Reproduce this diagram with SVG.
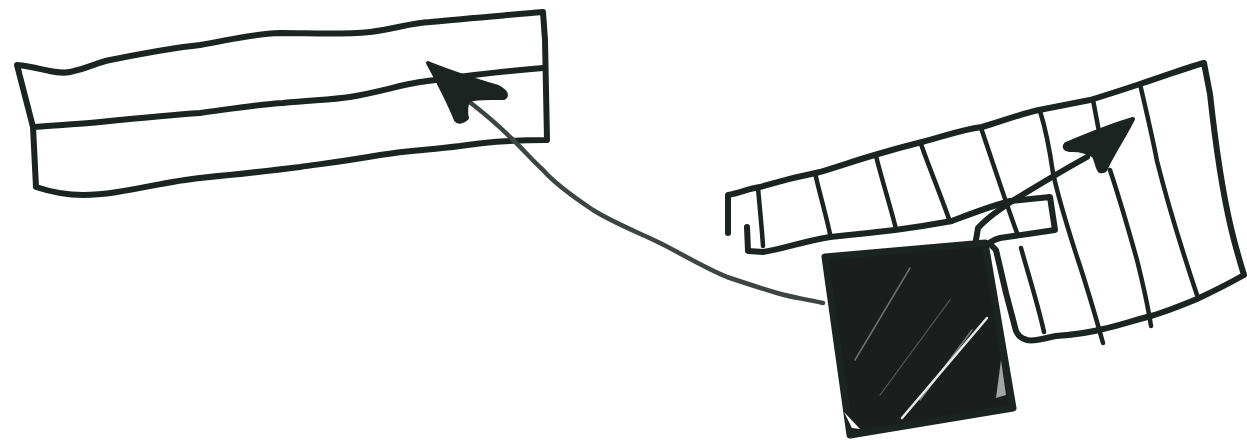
<svg xmlns="http://www.w3.org/2000/svg" width="1247" height="443" viewBox="0 0 1247 443">
<defs>
<style>
.ink{fill:none;stroke:#1c2422;stroke-width:6;stroke-linecap:round;stroke-linejoin:round}
.thin{fill:none;stroke:#1c2422;stroke-width:4.5;stroke-linecap:round;stroke-linejoin:round}
.gray{fill:none;stroke:#3d4543;stroke-width:4.5;stroke-linecap:round;stroke-linejoin:round}
.head{fill:#1c2422;stroke:#1c2422;stroke-width:4;stroke-linejoin:round}
.streak{fill:none;stroke:#e6ebea;stroke-linecap:round}
</style>
</defs>
<rect width="1247" height="443" fill="#ffffff"/>
<g id="left-box">
<path class="ink" d="M17,65 C40,67 55,75 70,72 C90,68 95,63 110,60 C140,54 170,48 200,45 C230,40 250,34 280,33 C310,33 340,35 370,32 C395,29 410,23 430,22 C470,18 510,15 543,12 L545,40 L547,140 C520,140 490,141 460,146 C430,150 410,150 380,155 C340,162 320,164 300,167 C260,172 230,175 200,178 C160,182 120,195 83,195 C60,195 45,190 36,187 L33,127 Z"/>
<path class="ink" d="M33,127 C60,125 80,124 100,122 C140,118 170,115 200,113 C230,109 260,104 283,103 C310,100 330,100 350,97 C380,92 400,85 420,82 C450,78 490,72 543,68"/>
</g>
<g id="block">
<path d="M825,257 L985,243 L1013,408 L850,435 Z" fill="#1a1f1e" stroke="#1c2422" stroke-width="7" stroke-linejoin="round"/>
<path class="streak" stroke-width="2.5" d="M987,318 L902,418"/>
<path class="streak" stroke-width="1.5" opacity="0.45" d="M972,330 L920,400"/>
<path class="streak" stroke-width="1.5" opacity="0.4" d="M910,268 L855,360"/>
<path class="streak" stroke-width="1.2" opacity="0.3" d="M950,300 L880,395"/>
<path d="M844,412 L852,428 L860,429 Z" fill="#ffffff"/>
<path d="M1001,360 L1006,395 L996,398 Z" fill="#ffffff" opacity="0.6"/>
</g>
<g id="ladder">
<path class="ink" d="M728,233 L728,195 C740,193 750,188 760,187 C780,181 800,176 820,172 C840,166 860,159 878,154 C895,149 910,145 922,142 C945,136 960,130 982,127 C1000,122 1020,114 1039,110 C1060,106 1075,103 1090,100 C1110,94 1125,89 1140,84 C1165,76 1185,68 1204,63 L1210,94 C1215,140 1222,190 1231,228 C1235,245 1240,262 1244,275 C1228,284 1212,292 1197,299 C1180,306 1165,312 1151,316 C1135,320 1118,326 1103,329 C1088,333 1072,335 1056,336 C1045,338 1035,342 1027,340 C1020,338 1018,335 1016,331 L1006,293 L996,250 L989,243 C992,241 996,239 1000,238 L1055,230 L1050,197 L1010,201 C985,208 965,216 952,221 C930,225 910,228 895,230 C870,233 850,235 830,237 C800,242 780,250 763,252 L748,251 L747,227"/>
<path class="thin" d="M758,188 C760,210 762,230 763,246"/>
<path class="thin" d="M815,173 C820,195 826,215 830,234"/>
<path class="thin" d="M876,156 C882,180 890,205 896,229"/>
<path class="thin" d="M921,144 C930,170 942,198 950,222"/>
<path class="thin" d="M981,128 C992,160 1005,200 1017,233"/>
<path class="thin" d="M1040,111 C1046,130 1050,152 1053,173 C1060,205 1070,235 1078,260 C1088,290 1096,318 1103,343"/>
<path class="thin" d="M1093,100 C1096,115 1098,127 1100,137"/>
<path class="thin" d="M1110,170 C1120,200 1130,235 1137,260 C1142,280 1147,300 1151,326"/>
<path class="thin" d="M1140,84 C1146,110 1152,135 1157,161 C1168,205 1182,250 1197,295"/>
<path class="thin" d="M1021,248 C1030,280 1038,305 1044,332"/>
</g>
<g id="connectors">
<path class="gray" d="M823,303 C800,298 790,297 777,293 C760,288 745,283 727,277 C705,268 682,254 660,243 C635,231 612,222 593,210 C575,198 556,185 543,170 C530,158 520,146 510,137 C495,122 480,110 467,100"/>
<path class="head" d="M428,63 C450,72 475,80 498,87 C506,91 508,96 504,98 C490,98 478,97 468,100 C466,106 466,114 467,118 C463,122 458,123 456,120 C450,105 440,85 428,63 Z"/>
<path class="ink" d="M976,240 L978,228 C990,215 1000,210 1006,205 C1030,190 1060,172 1087,157"/>
<path class="head" d="M1133,119 C1115,124 1090,134 1066,144 C1063,148 1066,150 1072,150 C1080,150 1088,152 1094,156 C1097,162 1097,168 1100,171 C1104,172 1106,170 1107,166 C1115,150 1125,135 1133,119 Z"/>
</g>
</svg>
